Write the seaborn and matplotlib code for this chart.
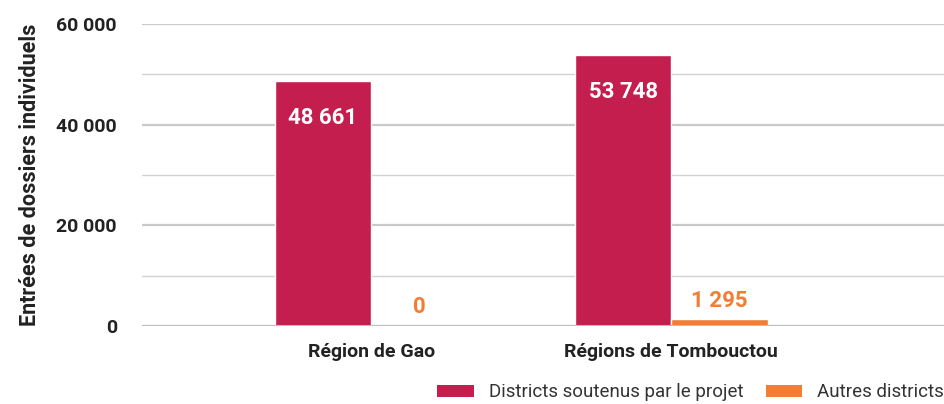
import pandas as pd
import numpy as np
import matplotlib.pyplot as plt
import seaborn as sns
from matplotlib.patches import Patch
from matplotlib.ticker import MultipleLocator, FuncFormatter

# Data
regions = ['Région de Gao', 'Régions de Tombouctou']
series = ['Districts soutenus par le projet', 'Autres districts']
soutenus = [48661, 53748]
autres = [0, 1295]

colors = ['#C41E4E', '#F27D35']

df = pd.DataFrame({
    'Region': regions * 2,
    'Serie': [series[0]] * 2 + [series[1]] * 2,
    'Valeur': soutenus + autres,
})

sns.set_style('white')
plt.rcParams['font.family'] = ['Roboto', 'DejaVu Sans']

fig = plt.figure(figsize=(9.44, 4.04), dpi=100)
ax = fig.add_axes([142 / 944, 78 / 404, 802 / 944, 302 / 404])

sns.barplot(data=df, x='Region', y='Valeur', hue='Serie', hue_order=series,
            palette=colors, width=0.645, gap=0, saturation=1, ax=ax,
            legend=False, zorder=3)

ax.set_ylim(0, 60000)
ax.set_xlim(-0.765, 1.909)
ax.yaxis.set_major_locator(MultipleLocator(20000))
ax.yaxis.set_minor_locator(MultipleLocator(10000))
ax.yaxis.set_major_formatter(FuncFormatter(lambda v, p: f'{v:,.0f}'.replace(',', ' ')))
ax.grid(axis='y', which='major', color='#c9c9c9', lw=1.6, zorder=0)
ax.grid(axis='y', which='minor', color='#d2d2d2', lw=1.0, zorder=0)
ax.axhline(0, color='#bdbdbd', lw=2.2, zorder=4)
ax.set_axisbelow(True)
sns.despine(ax=ax, left=True, bottom=True)

ax.tick_params(axis='y', which='both', length=0, pad=18, labelsize=14, labelcolor='#222222')
ax.tick_params(axis='x', length=0, pad=12, labelsize=14, labelcolor='#222222')
for lbl in ax.get_yticklabels() + ax.get_xticklabels():
    lbl.set_fontweight('bold')

ax.set_xlabel('')
ax.set_ylabel('Entrées de dossiers individuels', fontsize=15.5, fontweight='bold',
              color='#222222', labelpad=11)

def fmt(v):
    return f'{v:,.0f}'.replace(',', ' ')

# value labels
for i, cont in enumerate(ax.containers):
    for bar in cont:
        h = bar.get_height()
        x = bar.get_x() + bar.get_width() / 2
        if i == 0:
            ax.annotate(fmt(h), (x, h), xytext=(0, -26.5), textcoords='offset points',
                        ha='center', va='center', color='white', fontsize=16,
                        fontweight='bold', zorder=5)
        else:
            ax.annotate(fmt(h), (x, h), xytext=(0, 13.5), textcoords='offset points',
                        ha='center', va='center', color=colors[1], fontsize=16,
                        fontweight='bold', zorder=5)

handles = [Patch(facecolor=c, edgecolor='none') for c in colors]
fig.legend(handles, series, loc='lower right', bbox_to_anchor=(1.018, -0.035),
           ncol=2, frameon=False, fontsize=13.5, handlelength=1.95, handleheight=0.6,
           columnspacing=1.2, handletextpad=0.8, labelcolor='#333333')

fig.savefig('out.png', dpi=100)
